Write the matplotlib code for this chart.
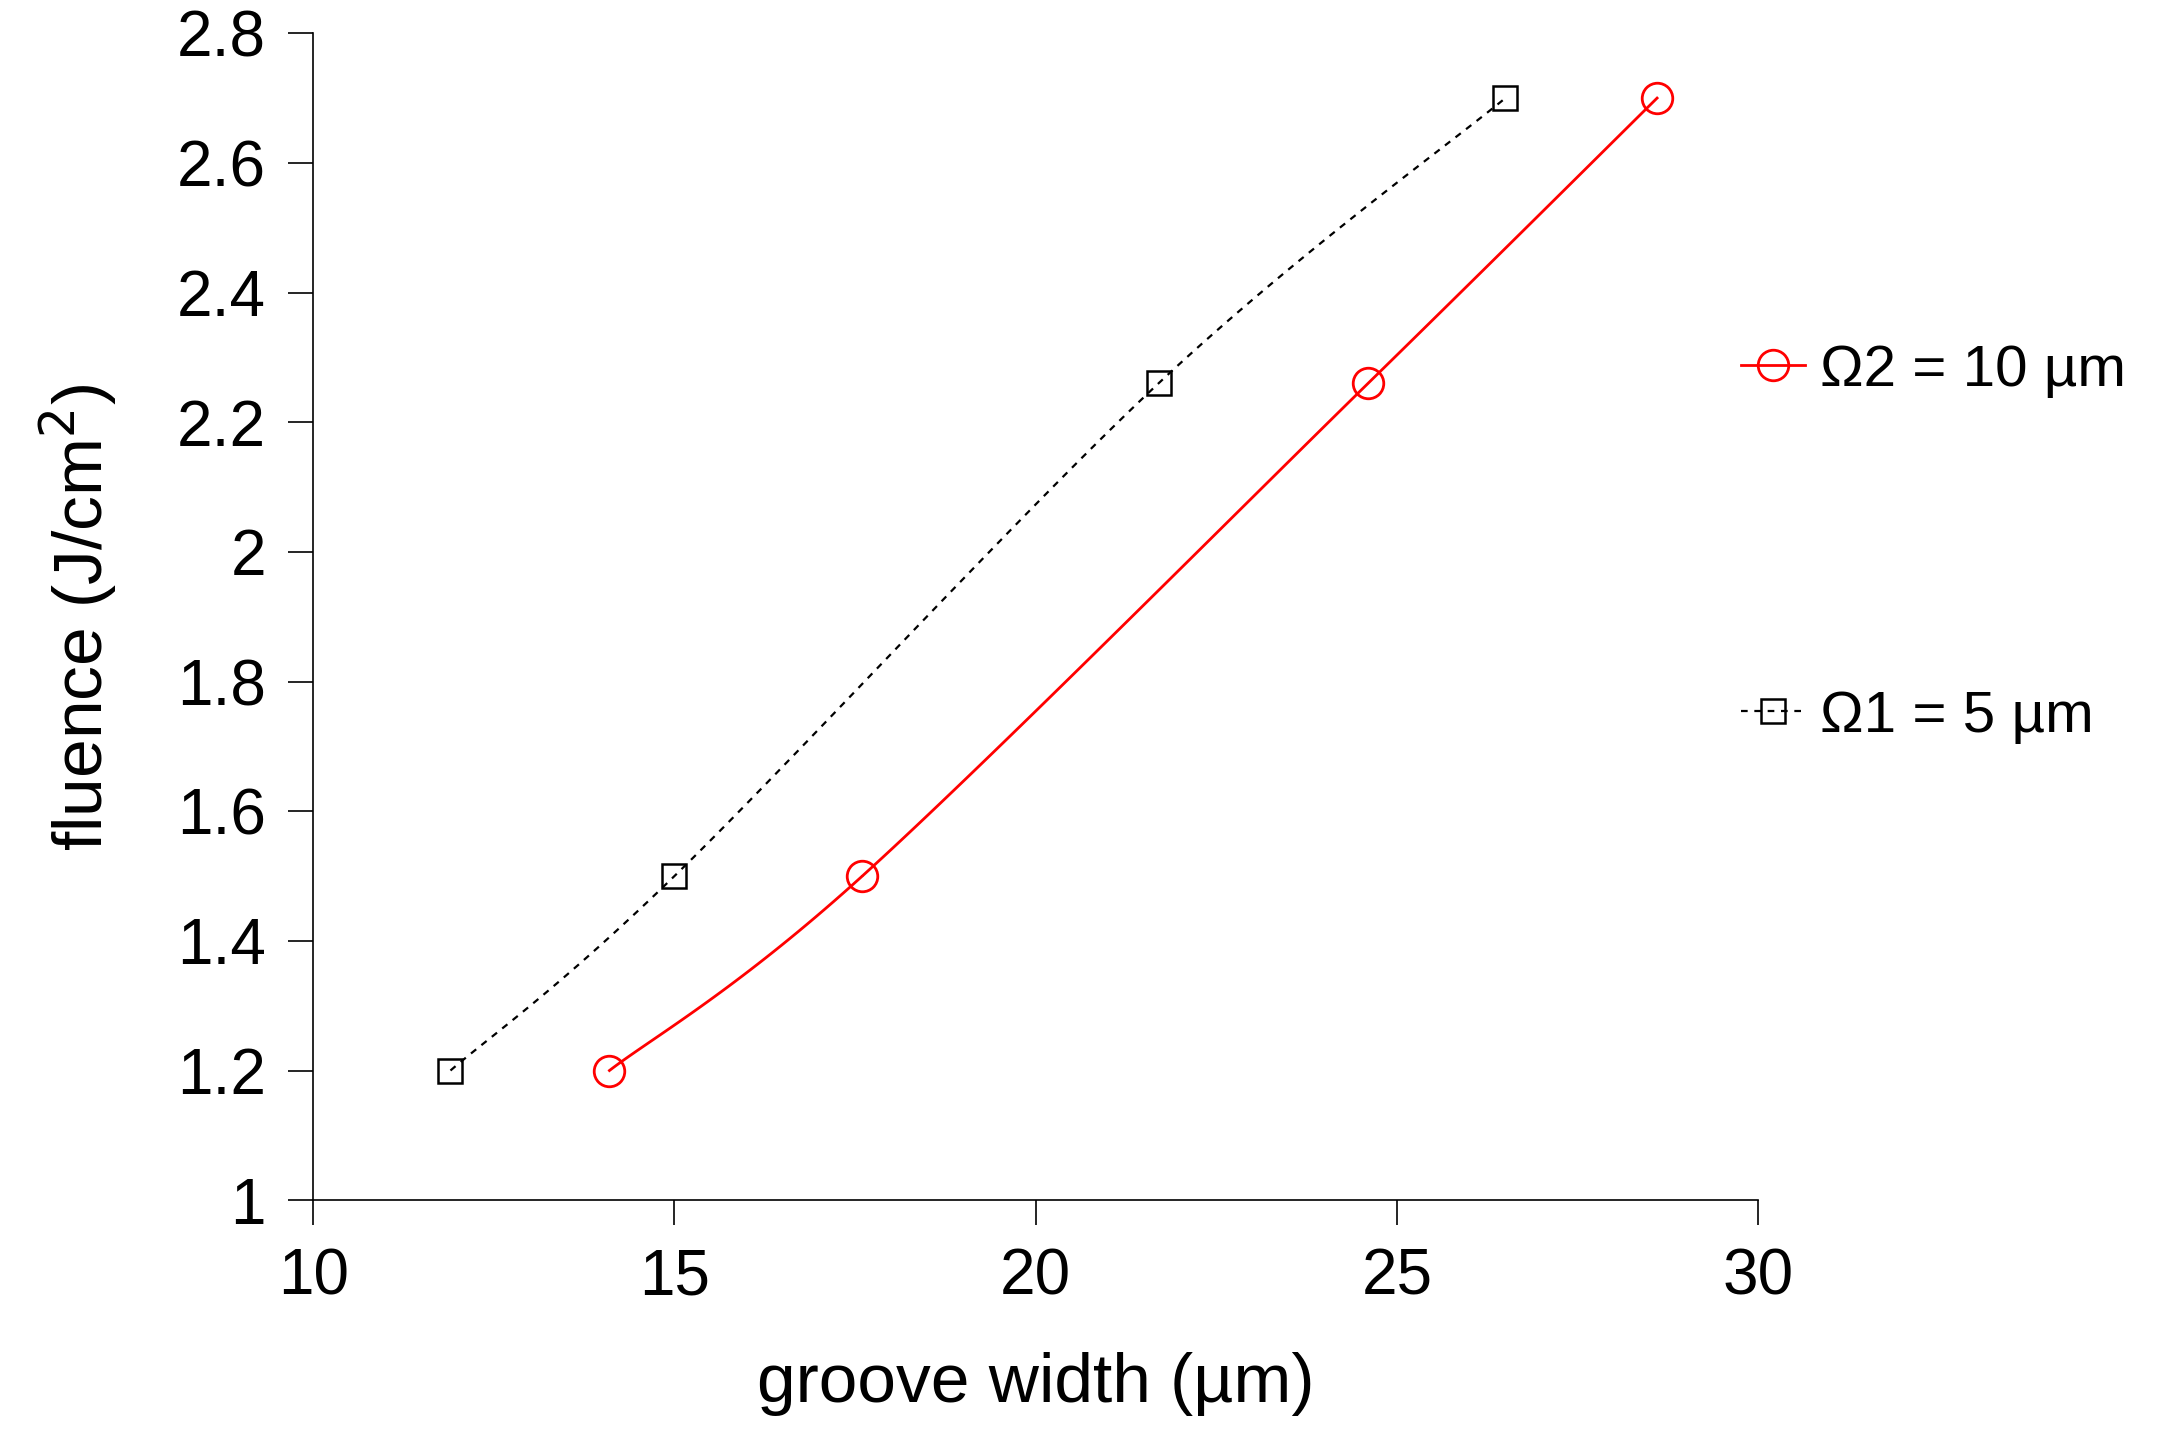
import numpy as np
import matplotlib
matplotlib.use("Agg")
import matplotlib.pyplot as plt

plt.rcParams['font.family'] = ['Liberation Sans', 'DejaVu Sans']

x_o1 = [11.9, 15.0, 21.7, 26.5]
y_o1 = [1.2, 1.5, 2.26, 2.7]
x_o2 = [14.1, 17.6, 24.6, 28.6]
y_o2 = [1.2, 1.5, 2.26, 2.7]

def smooth(xs, ys, n=40):
    p = np.column_stack([xs, ys])
    p = np.vstack([p[0], p, p[-1]])
    out = []
    for i in range(1, len(p) - 2):
        p0, p1, p2, p3 = p[i-1], p[i], p[i+1], p[i+2]
        t = np.linspace(0, 1, n)[:, None]
        out.append(0.5 * ((2*p1) + (-p0+p2)*t + (2*p0-5*p1+4*p2-p3)*t**2 + (-p0+3*p1-3*p2+p3)*t**3))
    out = np.vstack(out)
    return out[:, 0], out[:, 1]

fig = plt.figure(figsize=(21.6, 14.46), dpi=100)
ax = fig.add_axes([0.145, 0.170, 0.669, 0.807])

sx, sy = smooth(x_o2, y_o2)
ax.plot(sx, sy, color='red', lw=2)
ax.plot(x_o2, y_o2, 'o', ms=22, mfc='none', mec='red', mew=2)
sx, sy = smooth(x_o1, y_o1)
ax.plot(sx, sy, color='black', lw=1.6, ls=(0, (3, 3)))
ax.plot(x_o1, y_o1, 's', ms=17, mfc='none', mec='black', mew=1.8)

h2 = plt.Line2D([], [], color='red', lw=2, marker='o', ms=22, mfc='none', mec='red', mew=2)
h1 = plt.Line2D([], [], color='black', lw=1.6, ls=(0, (3, 3)), marker='s', ms=17, mfc='none', mec='black', mew=1.8)
fig.legend([h2, h1], ['Ω2 = 10 µm', 'Ω1 = 5 µm'], loc='center left',
           bbox_to_anchor=(0.806, 0.624), frameon=False, fontsize=42,
           labelspacing=5.0, handlelength=1.1, handletextpad=0.25, borderpad=0, borderaxespad=0)

ax.set_xlim(10, 30)
ax.set_ylim(1, 2.8)
ax.set_xticks([10, 15, 20, 25, 30])
ax.set_yticks([1, 1.2, 1.4, 1.6, 1.8, 2, 2.2, 2.4, 2.6, 2.8])
ax.set_yticklabels(['1', '1.2', '1.4', '1.6', '1.8', '2', '2.2', '2.4', '2.6', '2.8'])
for s in ['top', 'right']:
    ax.spines[s].set_visible(False)
for s in ['left', 'bottom']:
    ax.spines[s].set_linewidth(1.2)
ax.tick_params(direction='out', length=18, width=1.2, labelsize=46, pad=16)
ax.set_xlabel('groove width (µm)', fontsize=50, labelpad=32)
ax.set_ylabel('fluence (J/cm$^2$)', fontsize=50, labelpad=42)

fig.savefig('out.png', dpi=100)
